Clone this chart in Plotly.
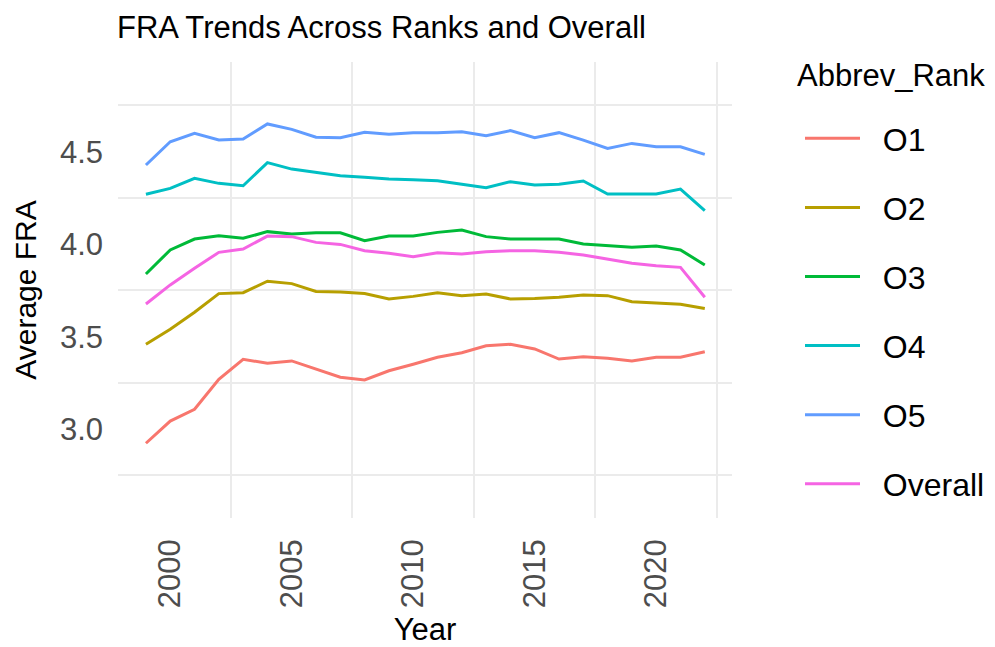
import plotly.graph_objects as go

years = list(range(1999, 2023))

o1 = [2.924, 3.044, 3.108, 3.270, 3.378, 3.356, 3.369, 3.324, 3.281, 3.266, 3.316, 3.351,
      3.389, 3.413, 3.451, 3.459, 3.434, 3.379, 3.392, 3.383, 3.369, 3.389, 3.389, 3.419]
o2 = [3.459, 3.540, 3.632, 3.733, 3.738, 3.800, 3.787, 3.745, 3.742, 3.733, 3.704, 3.718,
      3.738, 3.722, 3.731, 3.704, 3.707, 3.713, 3.725, 3.722, 3.689, 3.680, 3.675, 3.653]
o3 = [3.839, 3.969, 4.028, 4.046, 4.032, 4.068, 4.055, 4.062, 4.062, 4.019, 4.044, 4.044,
      4.064, 4.077, 4.041, 4.028, 4.028, 4.028, 4.001, 3.992, 3.983, 3.990, 3.969, 3.888]
o4 = [4.270, 4.302, 4.356, 4.329, 4.316, 4.441, 4.406, 4.389, 4.370, 4.362, 4.352, 4.349,
      4.343, 4.324, 4.305, 4.338, 4.320, 4.324, 4.342, 4.271, 4.271, 4.271, 4.298, 4.181]
o5 = [4.428, 4.554, 4.599, 4.563, 4.569, 4.650, 4.621, 4.578, 4.576, 4.605, 4.594, 4.603,
      4.603, 4.608, 4.586, 4.614, 4.576, 4.603, 4.563, 4.518, 4.545, 4.527, 4.527, 4.486]
overall = [3.677, 3.780, 3.870, 3.956, 3.974, 4.044, 4.041, 4.010, 3.999, 3.965, 3.951, 3.932,
           3.954, 3.947, 3.959, 3.965, 3.965, 3.956, 3.942, 3.920, 3.897, 3.884, 3.875, 3.713]

series_names = ["O1", "O2", "O3", "O4", "O5", "Overall"]
series_values = [o1, o2, o3, o4, o5, overall]
colors = ["#F8766D", "#B79F00", "#00BA38", "#00BFC4", "#619CFF", "#F564E3"]

x_ticks = [2000, 2005, 2010, 2015, 2020]
x_minor = [2002.5, 2007.5, 2012.5, 2017.5, 2022.5]
y_ticks = [3.0, 3.5, 4.0, 4.5]
y_tick_text = ["3.0", "3.5", "4.0", "4.5"]
y_minor = [2.75, 3.25, 3.75, 4.25, 4.75]

FONT = "Liberation Sans, Arial, Helvetica, sans-serif"
GRID = "#EBEBEB"
NB = "\u00a0\u00a0"

# page is shown with an 8px body margin, so the figure is sized to fit inside
W, H = 987, 639
L, T, R, B = 110, 54, 263, 129
PW, PH = W - L - R, H - T - B

fig = go.Figure()
for name, vals, col in zip(series_names, series_values, colors):
    fig.add_trace(go.Scatter(
        x=years, y=vals, mode="lines", name=NB + name, legendgroup=name,
        line=dict(color=col, width=3),
    ))

fig.update_layout(
    width=W, height=H,
    paper_bgcolor="white", plot_bgcolor="white",
    margin=dict(l=L, r=R, t=T, b=B, autoexpand=False),
    font=dict(family=FONT, color="black"),
    title=dict(text="FRA Trends Across Ranks and Overall", x=(L - 1) / W, xanchor="left",
               y=1 - 19 / H, yanchor="middle", pad=dict(t=0, b=0),
               font=dict(size=31, color="black")),
    showlegend=True,
    legend=dict(
        font=dict(size=32, color="black"),
        x=(800 - 8 - L) / PW, xanchor="left",
        y=1 + (T - (111 - 8)) / PH, yanchor="top",
        traceorder="grouped", tracegroupgap=24.5, itemwidth=55,
        bgcolor="rgba(0,0,0,0)", maxheight=600,
    ),
    annotations=[dict(
        text="Abbrev_Rank", xref="paper", yref="paper",
        x=(795 - 8 - L) / PW, xanchor="left",
        y=1 + (T - (75 - 8)) / PH, yanchor="middle",
        showarrow=False, font=dict(size=31, color="black"),
    )],
    xaxis=dict(
        range=[1997.85, 2023.12], tickmode="array", tickvals=x_ticks,
        tickangle=-90, showgrid=False, zeroline=False, showline=False, ticks="",
        tickfont=dict(size=31, color="#4D4D4D"), ticklabelstandoff=14,
        minor=dict(tickmode="array", tickvals=x_minor, showgrid=True,
                   gridcolor=GRID, gridwidth=1.8, ticks=""),
        title=dict(text="Year", font=dict(size=31, color="black"), standoff=22),
        automargin=False,
    ),
    yaxis=dict(
        range=[2.52, 4.985], tickmode="array", tickvals=y_ticks, ticktext=y_tick_text,
        showgrid=False, zeroline=False, showline=False, ticks="",
        tickfont=dict(size=31, color="#4D4D4D"), ticklabelstandoff=14,
        minor=dict(tickmode="array", tickvals=y_minor, showgrid=True,
                   gridcolor=GRID, gridwidth=1.8, ticks=""),
        title=dict(text="Average FRA", font=dict(size=30, color="black"), standoff=14),
        automargin=False,
    ),
)

fig.write_html("out.html")
